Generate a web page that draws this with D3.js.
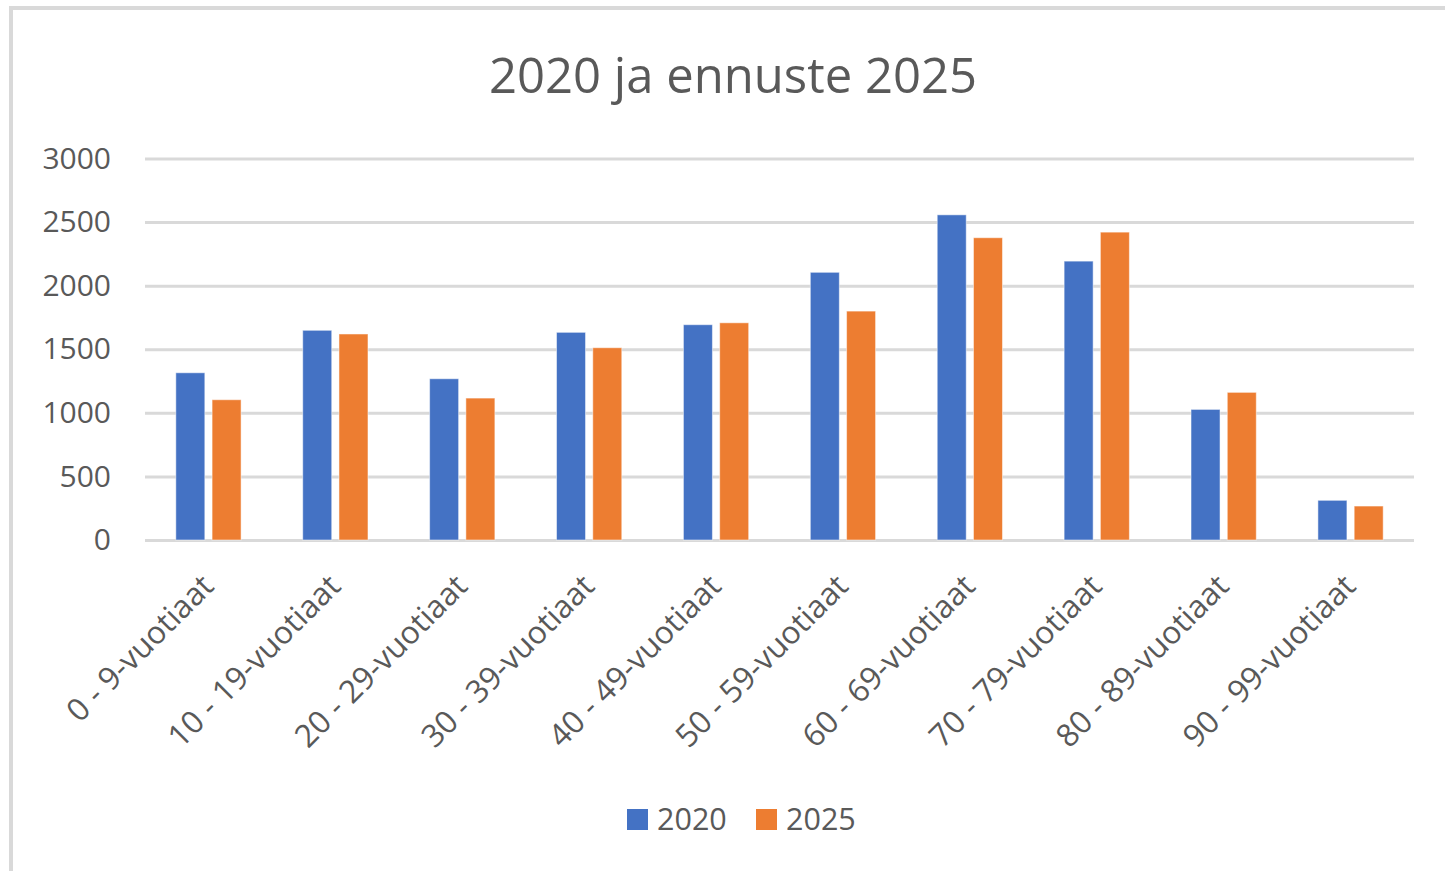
<!DOCTYPE html>
<html>
<head>
<meta charset="utf-8">
<script src="https://cdn.jsdelivr.net/npm/d3@7"></script>
<style>
  body { margin: 0; background: #fff; }
  svg { display: block; font-family: "Open Sans", sans-serif; }
</style>
</head>
<body>
<svg class="chart"></svg>
<script>
// data
const categories = ['0 - 9-vuotiaat', '10 - 19-vuotiaat', '20 - 29-vuotiaat', '30 - 39-vuotiaat',
    '40 - 49-vuotiaat', '50 - 59-vuotiaat', '60 - 69-vuotiaat', '70 - 79-vuotiaat',
    '80 - 89-vuotiaat', '90 - 99-vuotiaat'];
const seriesNames = ['2020', '2025'];
const values2020 = [1315, 1649, 1268, 1633, 1693, 2105, 2557, 2193, 1027, 312];
const values2025 = [1103, 1620, 1116, 1512, 1708, 1800, 2377, 2421, 1161, 267];
const yTicks = [0, 500, 1000, 1500, 2000, 2500, 3000];
const colors = ['#4472C4', '#ED7D31'];

const draw = () => {
    const width = 1445, height = 871;
    const textColor = '#595959';

    const data = categories.map((c, i) => ({
        cat: c,
        vals: [
            { key: seriesNames[0], value: values2020[i] },
            { key: seriesNames[1], value: values2025[i] }
        ]
    }));

    const svg = d3.select('.chart')
        .attr('width', width)
        .attr('height', height);

    // chart frame
    svg.append('rect')
        .attr('x', 11).attr('y', 8)
        .attr('width', width).attr('height', height)
        .attr('fill', '#fff')
        .attr('stroke', '#d9d9d9')
        .attr('stroke-width', 4);

    // title
    svg.append('text')
        .attr('x', 733).attr('y', 93)
        .attr('text-anchor', 'middle')
        .attr('font-size', 49)
        .attr('fill', textColor)
        .text('2020 ja ennuste 2025');

    // scales
    const x0 = d3.scaleBand()
        .domain(categories)
        .range([145, 1414]);

    const x1 = d3.scaleBand()
        .domain(seriesNames)
        .range([0, x0.bandwidth()])
        .paddingInner(0.2)
        .paddingOuter(0.85);

    const y = d3.scaleLinear()
        .domain([0, 3000])
        .range([540, 158.5]);

    // gridlines + y labels
    const yAxis = svg.append('g')
        .attr('transform', 'translate(145,0)')
        .call(d3.axisLeft(y).tickValues(yTicks).tickFormat(d3.format('d'))
            .tickSize(-(1414 - 145)).tickPadding(34));
    yAxis.select('.domain').remove();
    yAxis.selectAll('.tick line')
        .attr('stroke', '#d9d9d9')
        .attr('stroke-width', 3);
    yAxis.selectAll('.tick text')
        .attr('fill', textColor)
        .attr('font-size', 30)
        .attr('font-family', '"Open Sans", sans-serif');

    // bars
    const group = svg.append('g').selectAll('g')
        .data(data)
        .enter().append('g')
        .attr('transform', d => 'translate(' + x0(d.cat) + ',0)');

    group.selectAll('rect')
        .data(d => d.vals)
        .enter().append('rect')
        .attr('x', d => x1(d.key))
        .attr('y', d => y(d.value))
        .attr('width', x1.bandwidth())
        .attr('height', d => y(0) - y(d.value))
        .attr('fill', (d, i) => colors[i])
        .attr('stroke', '#fff')
        .attr('stroke-opacity', 0.5)
        .attr('stroke-width', 1);

    // x labels, rotated
    svg.append('g').selectAll('text')
        .data(categories)
        .enter().append('text')
        .attr('transform', d => 'translate(' + (x0(d) + x0.bandwidth() / 2 + 7) + ',588) rotate(-45)')
        .attr('text-anchor', 'end')
        .attr('font-size', 31.5)
        .attr('fill', textColor)
        .text(d => d);

    // legend
    const legendX = [627, 756];
    const legend = svg.append('g').selectAll('g')
        .data(seriesNames)
        .enter().append('g')
        .attr('transform', (d, i) => 'translate(' + legendX[i] + ',809)');
    legend.append('rect')
        .attr('width', 21).attr('height', 21)
        .attr('fill', (d, i) => colors[i]);
    legend.append('text')
        .attr('x', 30).attr('y', 21)
        .attr('font-size', 30.5)
        .attr('fill', textColor)
        .text(d => d);
};

document.addEventListener('DOMContentLoaded', draw);
</script>
</body>
</html>
